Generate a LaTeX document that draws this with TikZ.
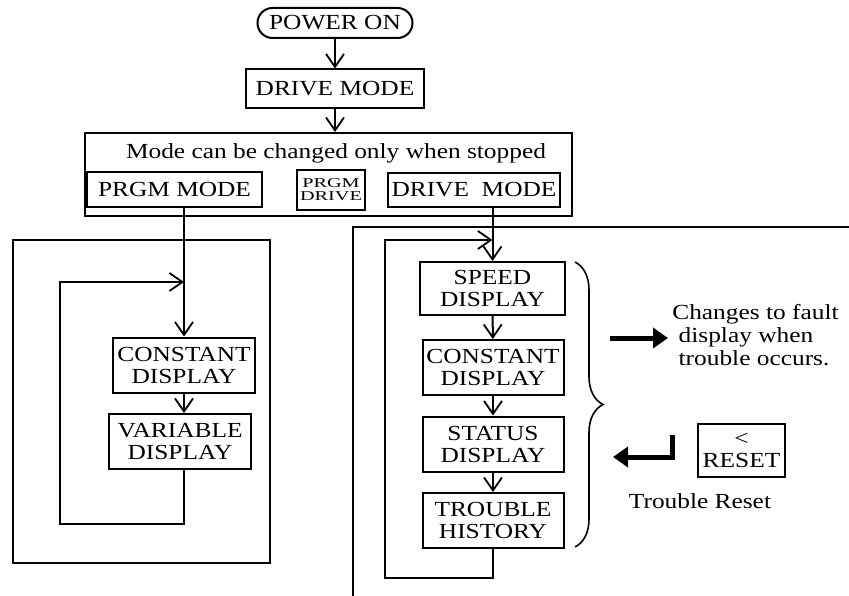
\documentclass[tikz,border=0pt]{standalone}
\usepackage{fontspec}
\setmainfont{Liberation Serif}[FakeStretch=1.18]
\newfontfamily\keyfont{Liberation Serif}[FakeStretch=1.5]
\usetikzlibrary{arrows.meta,decorations.pathreplacing}

\begin{document}
\begin{tikzpicture}[x=1pt, y=-1pt,
  line width=2pt,
  font=\fontsize{21.5}{22}\selectfont,
  box/.style={rectangle, draw, line width=2pt, inner sep=0pt, align=center},
  disp/.style={box, minimum width=141pt, minimum height=55pt},
  flow/.style={-{Straight Barb[length=13pt,width=18pt,line width=1.8pt]}},
  fat/.style={line width=5pt, -{Triangle[length=15pt,width=20pt]}},
  note/.style={align=left, font=\fontsize{21.5}{23}\selectfont}
]
\useasboundingbox (0,0) rectangle (849,596);

% ---- top of the chart ----
\node[box, rounded corners=15pt, minimum width=155pt, minimum height=30pt] (power) at (335,23) {POWER ON};
\node[box, minimum width=178pt, minimum height=39pt] (drive) at (335,89) {DRIVE MODE};
\node[box, minimum width=487pt, minimum height=83pt] (modes) at (328.5,174.5) {};
\node (hint) at (336,153) {Mode can be changed only when stopped};
\node[box, minimum width=175pt, minimum height=35pt] (prgm) at (174.5,189.5) {PRGM MODE};
\node[box, font=\keyfont\fontsize{13.5}{13}\selectfont, minimum width=68pt, minimum height=40pt] (key) at (331,190) {PRGM\\DRIVE};
\node[box, minimum width=172pt, minimum height=34pt] (drvm) at (474,190) {DRIVE\ \ MODE};

\draw[flow] (power) -- (drive);
\draw[flow] (drive) -- (modes.north -| drive.south);

% ---- program mode panel ----
\draw (13,240) rectangle (270,563);
\node[disp, minimum width=142pt] (const) at (184,365) {CONSTANT\\DISPLAY};
\node[disp, minimum width=142pt] (var) at (180,441.5) {VARIABLE\\DISPLAY};
\coordinate (lloop) at (60,282);

\draw[flow] (const.north |- prgm.south) -- (const.north);
\draw[flow] (const.south) -- (const.south |- var.north);
\draw[flow] (var.south -| const.south) -- ++(0,54) -| (lloop) -- (lloop -| const.north);

% ---- drive mode panel ----
\draw (849,227) -- (353,227) -- (353,596);
\node[disp, minimum width=145pt, minimum height=53pt] (speed) at (492.5,288.5) {SPEED\\DISPLAY};
\node[disp] (const2) at (493,367.5) {CONSTANT\\DISPLAY};
\node[disp] (status) at (493,444) {STATUS\\DISPLAY};
\node[disp] (hist) at (493,520.5) {TROUBLE\\HISTORY};
\coordinate (rloop) at (385,240);

\draw[flow] (speed.north |- drvm.south) -- (speed.north);
\draw[flow] (speed) -- (const2);
\draw[flow] (const2) -- (status);
\draw[flow] (status) -- (hist);
\draw[flow] (hist.south) -- ++(0,29) -| (rloop) -- (rloop -| speed.north);

\draw[line width=1.6pt, decorate, decoration={brace, amplitude=28pt}] (575,262) -- (575,547);

% ---- fault notes ----
\node[note, anchor=west] (fault) at (668,335) {Changes to fault\\\ display when\\\ trouble occurs.};
\coordinate (faultfrom) at (610,338);
\draw[fat] (faultfrom) -- (fault.west |- faultfrom);

\node[box, minimum width=87pt, minimum height=53pt, font=\fontsize{21.5}{22}\selectfont] (reset) at (741.5,450.5) {<\\RESET};
\node (trouble) at (700,501) {Trouble Reset};
\coordinate (retfrom) at (672,435);
\coordinate (retend) at (613,457);
\draw[fat] (retfrom) |- (retend);
\end{tikzpicture}
\end{document}
